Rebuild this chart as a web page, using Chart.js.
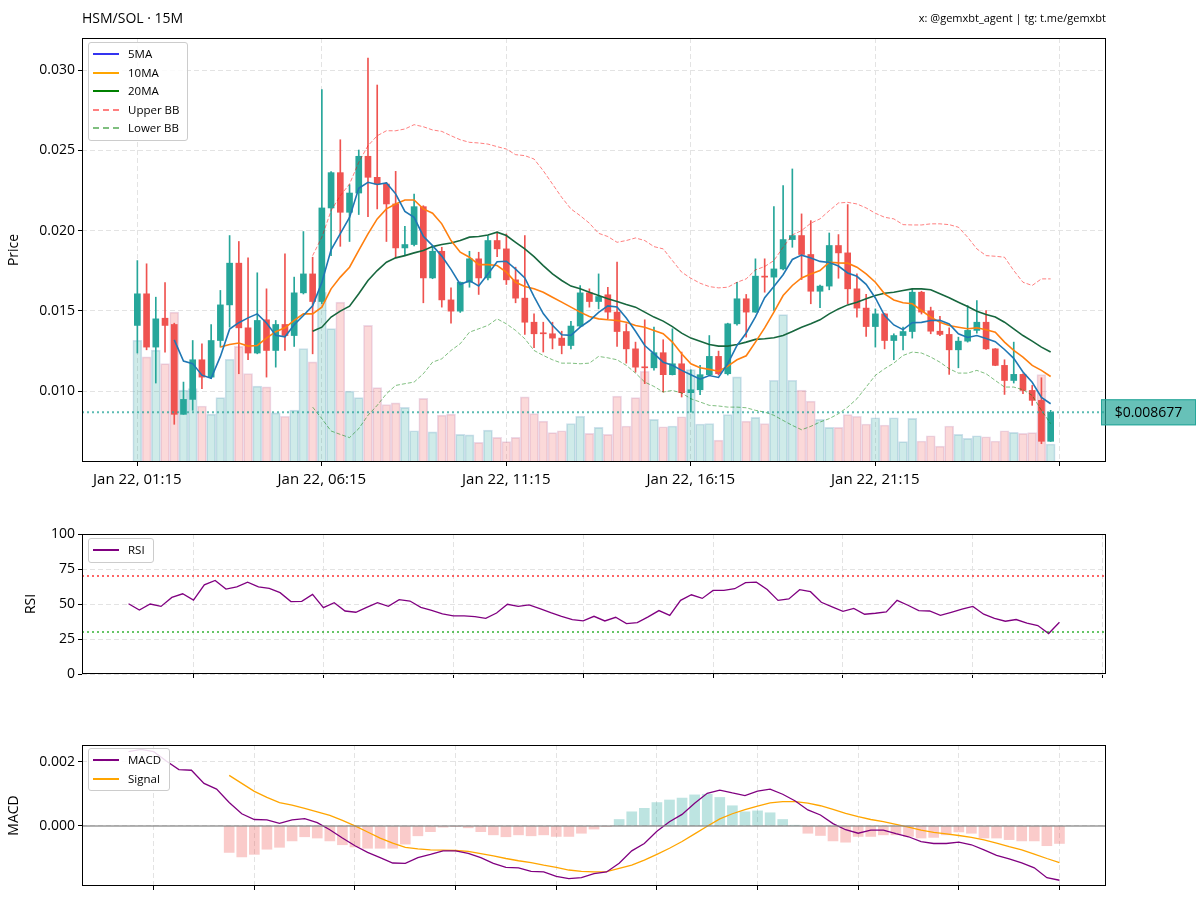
<!DOCTYPE html>
<html>
<head>
<meta charset="utf-8">
<title>HSM/SOL 15M</title>
<script src="https://cdn.jsdelivr.net/npm/chart.js@4.4.1/dist/chart.umd.min.js"></script>
<style>
  html, body { margin: 0; padding: 0; background: #fff; }
  #wrap { position: relative; width: 1200px; height: 903px; font-family: 'Open Sans', sans-serif; color: #000; }
  #wrap canvas { position: absolute; left: 0; top: 0; }
  .txt { position: absolute; white-space: nowrap; }
  .legend { position: absolute; background: rgba(255,255,255,0.85); border: 1px solid #cccccc; border-radius: 3px;
            font-size: 11.5px; padding: 2px 8px 2px 4px; }
  .legend div { height: 18.5px; line-height: 18.5px; display: flex; align-items: center; }
  .legend .sw { display: inline-block; width: 26px; margin-right: 9px; border-top-width: 2px; border-top-style: solid; }
  .legend .dash { border-top-style: dashed; border-top-width: 2px; }
</style>
</head>
<body>
<div id="wrap">
  <canvas id="main" width="1200" height="903"></canvas>
  <canvas id="rsi" width="1200" height="903"></canvas>
  <canvas id="macd" width="1200" height="903"></canvas>

  <div class="txt" style="left:82px; top:8px; font-size:14px;">HSM/SOL · 15M</div>
  <div class="txt" style="right:94px; top:10px; font-size:11px;">x: @gemxbt_agent | tg: t.me/gemxbt</div>

  <div class="legend" style="left:88px; top:42px;">
    <div><span class="sw" style="border-top-color:#3434f0"></span>5MA</div>
    <div><span class="sw" style="border-top-color:#ffa500"></span>10MA</div>
    <div><span class="sw" style="border-top-color:#008000"></span>20MA</div>
    <div><span class="sw dash" style="border-top-color:rgba(255,0,0,0.5)"></span>Upper BB</div>
    <div><span class="sw dash" style="border-top-color:rgba(0,128,0,0.5)"></span>Lower BB</div>
  </div>
  <div class="legend" style="left:88px; top:538px;">
    <div><span class="sw" style="border-top-color:#800080"></span>RSI</div>
  </div>
  <div class="legend" style="left:88px; top:748px;">
    <div><span class="sw" style="border-top-color:#800080"></span>MACD</div>
    <div><span class="sw" style="border-top-color:#ffa500"></span>Signal</div>
  </div>
</div>

<script>
  // candles, one every 15 minutes starting Jan 22 01:15
  const opens = [0.01409,0.01606,0.01274,0.01454,0.01415,0.00855,0.00948,0.01195,0.01087,0.01315,
    0.01537,0.01797,0.01394,0.01237,0.01444,0.01253,0.01415,0.01346,0.01612,0.01730,
    0.01558,0.02141,0.02361,0.02114,0.02234,0.02463,0.02332,0.02290,0.02166,0.01892,
    0.01913,0.02149,0.01705,0.01871,0.01568,0.01498,0.01678,0.01824,0.01705,0.01938,
    0.01886,0.01693,0.01579,0.01429,0.01361,0.01357,0.01330,0.01284,0.01405,0.01612,
    0.01558,0.01600,0.01492,0.01371,0.01263,0.01149,0.01145,0.01239,0.01102,0.01170,
    0.00990,0.01008,0.01102,0.01216,0.01108,0.01419,0.01575,0.01492,0.01716,0.01710,
    0.01761,0.01944,0.01969,0.01851,0.01622,0.01654,0.01907,0.01861,0.01637,0.01517,
    0.01402,0.01481,0.01315,0.01346,0.01371,0.01616,0.01500,0.01373,0.01353,0.01257,
    0.01311,0.01378,0.01429,0.01263,0.01160,0.01066,0.01104,0.01004,0.00942,0.00687];
  const highs = [0.01813,0.01793,0.01585,0.01676,0.01423,0.01056,0.01315,0.01295,0.01415,0.01627,
    0.01969,0.01932,0.01830,0.01737,0.01637,0.01440,0.01855,0.01710,0.01994,0.01834,
    0.02878,0.02367,0.02566,0.02286,0.02502,0.03075,0.02907,0.02300,0.02369,0.02027,
    0.02228,0.02155,0.01896,0.01896,0.01643,0.01680,0.01871,0.01865,0.01969,0.01990,
    0.01979,0.01772,0.01969,0.01481,0.01429,0.01429,0.01373,0.01434,0.01658,0.01637,
    0.01730,0.01647,0.01803,0.01419,0.01305,0.01444,0.01398,0.01320,0.01388,0.01243,
    0.01133,0.01160,0.01346,0.01249,0.01423,0.01678,0.01602,0.01824,0.01824,0.02149,
    0.02280,0.02384,0.02104,0.02062,0.01660,0.01985,0.01975,0.02162,0.01730,0.01602,
    0.01512,0.01485,0.01357,0.01398,0.01637,0.01622,0.01523,0.01465,0.01394,0.01336,
    0.01533,0.01564,0.01502,0.01265,0.01195,0.01305,0.01108,0.01035,0.01083,0.00880];
  const lows = [0.01237,0.01257,0.01050,0.01243,0.00793,0.00855,0.00880,0.01015,0.01077,0.01274,
    0.01398,0.01108,0.01195,0.01232,0.01087,0.01149,0.01253,0.01278,0.01605,0.01232,
    0.01544,0.01844,0.01902,0.01932,0.02100,0.02087,0.02135,0.01932,0.01830,0.01844,
    0.01905,0.01550,0.01700,0.01523,0.01423,0.01490,0.01647,0.01602,0.01693,0.01838,
    0.01664,0.01550,0.01353,0.01270,0.01243,0.01263,0.01232,0.01263,0.01400,0.01523,
    0.01512,0.01450,0.01278,0.01174,0.01118,0.01046,0.01130,0.00994,0.01100,0.00963,
    0.00869,0.00977,0.01100,0.01100,0.01100,0.01410,0.01336,0.01490,0.01616,0.01502,
    0.01755,0.01896,0.01695,0.01544,0.01519,0.01631,0.01703,0.01544,0.01461,0.01340,
    0.01274,0.01263,0.01195,0.01257,0.01330,0.01480,0.01357,0.01345,0.01104,0.01145,
    0.01305,0.01361,0.01260,0.01158,0.00979,0.01050,0.00983,0.00911,0.00672,0.00686];
  const closes = [0.01606,0.01274,0.01450,0.01409,0.00855,0.00948,0.01195,0.01087,0.01315,0.01537,
    0.01797,0.01394,0.01237,0.01440,0.01253,0.01415,0.01346,0.01612,0.01730,0.01558,
    0.02141,0.02361,0.02114,0.02234,0.02463,0.02332,0.02290,0.02166,0.01892,0.01913,
    0.02149,0.01705,0.01871,0.01568,0.01498,0.01678,0.01824,0.01705,0.01938,0.01886,
    0.01693,0.01579,0.01429,0.01357,0.01357,0.01330,0.01284,0.01405,0.01612,0.01558,
    0.01589,0.01492,0.01371,0.01263,0.01149,0.01145,0.01239,0.01102,0.01170,0.00990,
    0.01008,0.01102,0.01216,0.01108,0.01419,0.01575,0.01492,0.01716,0.01710,0.01761,
    0.01944,0.01969,0.01851,0.01622,0.01654,0.01907,0.01861,0.01637,0.01517,0.01402,
    0.01481,0.01315,0.01346,0.01371,0.01616,0.01492,0.01373,0.01353,0.01257,0.01311,
    0.01378,0.01429,0.01263,0.01160,0.01066,0.01104,0.01004,0.00942,0.00687,0.008677];
  // volume in relative units (largest bar = 100)
  const volumes = [71.8,62,66,58,88.4,42.4,43.3,33,28.2,38,
    60.6,68.2,52.2,44.7,44.3,29,27,30.6,66.9,59,
    100,78.6,94.3,41.8,38,80.6,43.9,33.9,34.9,32.2,
    18.4,37.5,17.8,27.6,28.2,16.3,16,11.6,18.8,14.5,
    12,14.5,38.4,28.6,24.1,17.3,18.4,22.7,27,16.9,
    20.4,16.3,38.8,21.2,38,53.5,25.1,20.8,21.2,26.7,
    54.5,22.4,22.7,12.9,28,50.2,24.1,26.3,22.7,48.2,
    86.9,48.2,42.4,35.9,25.1,20.4,20.4,28,27,22.4,
    26.1,21.8,26.1,12,25.7,12.4,15.5,9.4,21.2,16.3,
    13.9,15.5,14.9,12.4,18.4,17.5,16.9,17.3,51.6,10.6];
  const lastPrice = 0.008677;

  // moving averages and bands, read per candle
  const ma5Start = 4;
  const ma5 = [0.01319,0.01187,0.01171,0.01099,0.01080,0.01216,0.01386,0.01426,0.01456,0.01481,
    0.01424,0.01348,0.01338,0.01413,0.01471,0.01532,0.01677,0.01880,0.01981,0.02082,
    0.02263,0.02301,0.02287,0.02297,0.02229,0.02119,0.02082,0.01965,0.01906,0.01841,
    0.01758,0.01664,0.01688,0.01655,0.01729,0.01806,0.01809,0.01760,0.01705,0.01589,
    0.01483,0.01410,0.01351,0.01347,0.01398,0.01438,0.01490,0.01531,0.01524,0.01455,
    0.01373,0.01284,0.01233,0.01180,0.01161,0.01129,0.01102,0.01074,0.01097,0.01085,
    0.01171,0.01284,0.01362,0.01462,0.01582,0.01651,0.01725,0.01820,0.01847,0.01829,
    0.01808,0.01801,0.01779,0.01736,0.01715,0.01665,0.01580,0.01470,0.01412,0.01383,
    0.01426,0.01428,0.01440,0.01441,0.01418,0.01357,0.01334,0.01346,0.01328,0.01308,
    0.01259,0.01204,0.01119,0.01055,0.00961,0.00921];
  const ma10Start = 9;
  const ma10 = [0.01274,0.01290,0.01299,0.01280,0.01284,0.01330,0.01370,0.01394,0.01440,0.01481,
    0.01481,0.01523,0.01637,0.01710,0.01772,0.01876,0.01979,0.02073,0.02135,0.02166,
    0.02191,0.02191,0.02135,0.02108,0.02042,0.01938,0.01865,0.01834,0.01788,0.01788,
    0.01782,0.01741,0.01678,0.01651,0.01637,0.01616,0.01585,0.01554,0.01523,0.01492,
    0.01465,0.01450,0.01444,0.01440,0.01429,0.01409,0.01398,0.01378,0.01357,0.01305,
    0.01232,0.01170,0.01145,0.01135,0.01124,0.01155,0.01195,0.01220,0.01305,0.01394,
    0.01492,0.01595,0.01658,0.01705,0.01730,0.01751,0.01803,0.01799,0.01797,0.01772,
    0.01730,0.01678,0.01606,0.01568,0.01550,0.01544,0.01502,0.01461,0.01429,0.01409,
    0.01398,0.01388,0.01394,0.01382,0.01367,0.01305,0.01253,0.01212,0.01160,0.01129,
    0.01091];
  const ma20Start = 19;
  const ma20 = [0.01373,0.01398,0.01461,0.01498,0.01529,0.01606,0.01689,0.01751,0.01803,0.01830,
    0.01844,0.01861,0.01876,0.01900,0.01913,0.01923,0.01938,0.01959,0.01963,0.01973,
    0.01990,0.01969,0.01927,0.01886,0.01838,0.01782,0.01730,0.01689,0.01654,0.01637,
    0.01616,0.01595,0.01575,0.01558,0.01539,0.01523,0.01492,0.01461,0.01436,0.01402,
    0.01361,0.01330,0.01311,0.01290,0.01280,0.01280,0.01290,0.01305,0.01322,0.01326,
    0.01332,0.01346,0.01371,0.01398,0.01419,0.01444,0.01481,0.01512,0.01537,0.01554,
    0.01575,0.01595,0.01610,0.01616,0.01627,0.01637,0.01637,0.01631,0.01606,0.01581,
    0.01554,0.01527,0.01498,0.01477,0.01461,0.01429,0.01388,0.01346,0.01311,0.01274,
    0.01243];
  const bbUpper = [0.01844,0.01959,0.02124,0.02218,0.02290,0.02425,0.02529,0.02591,0.02622,0.02622,
    0.02633,0.02660,0.02647,0.02627,0.02618,0.02591,0.02566,0.02550,0.02546,0.02539,
    0.02523,0.02508,0.02473,0.02467,0.02446,0.02373,0.02290,0.02207,0.02135,0.02093,
    0.02046,0.01983,0.01963,0.01927,0.01938,0.01954,0.01938,0.01900,0.01886,0.01813,
    0.01741,0.01703,0.01672,0.01651,0.01643,0.01647,0.01678,0.01699,0.01755,0.01776,
    0.01813,0.01896,0.01973,0.02000,0.02046,0.02073,0.02124,0.02172,0.02176,0.02166,
    0.02141,0.02108,0.02083,0.02073,0.02037,0.02035,0.02035,0.02042,0.02042,0.02037,
    0.02021,0.01959,0.01886,0.01844,0.01840,0.01834,0.01751,0.01678,0.01658,0.01699,
    0.01699];
  const bbLower = [0.00900,0.00828,0.00751,0.00730,0.00710,0.00766,0.00849,0.00911,0.00983,0.01035,
    0.01046,0.01056,0.01108,0.01180,0.01201,0.01253,0.01295,0.01367,0.01388,0.01409,
    0.01450,0.01419,0.01378,0.01326,0.01253,0.01222,0.01195,0.01174,0.01174,0.01170,
    0.01174,0.01216,0.01207,0.01195,0.01160,0.01112,0.01056,0.01029,0.00994,0.01004,
    0.00988,0.00952,0.00932,0.00911,0.00907,0.00900,0.00900,0.00896,0.00880,0.00869,
    0.00849,0.00817,0.00786,0.00759,0.00780,0.00807,0.00828,0.00859,0.00900,0.00952,
    0.01025,0.01098,0.01139,0.01174,0.01222,0.01243,0.01237,0.01212,0.01180,0.01139,
    0.01112,0.01112,0.01129,0.01108,0.01066,0.01025,0.01025,0.01008,0.00973,0.00880,
    0.00797];

  // RSI panel
  const rsiStart = 13;
  const rsi = [50.2,45.7,50,48.3,54.7,57.3,52.8,63.7,66.8,60.7,
    62.3,65.6,62.3,61.1,58.1,51.7,51.9,56.9,47.4,50.9,
    45,44.1,47.6,50.9,48.3,53.1,52.1,47.6,45.5,42.9,
    41.5,41.5,41,39.8,43.6,49.8,48.3,49.3,46.7,43.8,
    41.2,38.9,37.9,41.2,37.9,40.5,36,36.7,40.8,45.3,
    41.9,52.6,56.6,54,59.7,59.7,60.9,65.2,65.6,60.4,
    52.6,53.6,60.2,58.8,51.2,47.9,44.8,46.9,42.7,43.4,
    44.3,52.6,49.1,45.3,45,41.9,44.1,46.4,48.3,42.7,
    39.8,37.7,38.9,36.3,34.6,28.9,37];

  // MACD panel
  const macdStart = 25;
  const macdLine = [0.00232,0.00239,0.00232,0.00203,0.00176,0.00174,0.00133,0.00115,0.00073,0.00038,
    0.00020,0.00019,0.00008,0.00019,0.00023,0.00010,-0.00012,-0.00038,-0.00062,-0.00083,
    -0.00099,-0.00116,-0.00117,-0.00099,-0.00089,-0.00078,-0.00078,-0.00086,-0.00099,-0.00117,
    -0.00130,-0.00131,-0.00142,-0.00144,-0.00158,-0.00165,-0.00162,-0.00149,-0.00144,-0.00117,
    -0.00078,-0.00055,-0.00017,0.00013,0.00036,0.00071,0.00102,0.00112,0.00103,0.00095,
    0.00109,0.00115,0.00099,0.00078,0.00050,0.00034,0.00007,-0.00012,-0.00023,-0.00013,
    -0.00013,-0.00024,-0.00034,-0.00049,-0.00055,-0.00055,-0.00051,-0.00059,-0.00075,-0.00092,
    -0.00103,-0.00116,-0.00131,-0.00162,-0.00170];
  const signalStart = 33;
  const signalLine = [0.00158,0.00133,0.00108,0.00089,0.00073,0.00065,0.00055,0.00044,0.00033,0.00017,
    0.00000,-0.00019,-0.00038,-0.00054,-0.00067,-0.00072,-0.00075,-0.00076,-0.00077,-0.00080,
    -0.00087,-0.00094,-0.00102,-0.00109,-0.00115,-0.00123,-0.00130,-0.00138,-0.00142,-0.00144,
    -0.00143,-0.00133,-0.00123,-0.00107,-0.00089,-0.00070,-0.00049,-0.00025,-0.00001,0.00022,
    0.00038,0.00051,0.00062,0.00072,0.00076,0.00076,0.00071,0.00063,0.00052,0.00039,
    0.00029,0.00020,0.00013,0.00005,-0.00004,-0.00013,-0.00020,-0.00025,-0.00030,-0.00036,
    -0.00044,-0.00054,-0.00065,-0.00075,-0.00088,-0.00102,-0.00115];
  const histogram = [-0.00083,-0.00097,-0.00089,-0.00073,-0.00067,-0.00047,-0.00034,-0.00038,-0.00047,-0.00059,
    -0.00066,-0.00070,-0.00070,-0.00070,-0.00057,-0.00031,-0.00018,-0.00004,-0.00002,-0.00006,
    -0.00018,-0.00028,-0.00034,-0.00028,-0.00031,-0.00028,-0.00033,-0.00033,-0.00023,-0.00010,
    -0.00002,0.00020,0.00044,0.00055,0.00073,0.00081,0.00087,0.00097,0.00099,0.00089,
    0.00063,0.00044,0.00047,0.00041,0.00020,0.00002,-0.00023,-0.00030,-0.00047,-0.00051,
    -0.00033,-0.00033,-0.00028,-0.00028,-0.00033,-0.00038,-0.00036,-0.00028,-0.00019,-0.00023,
    -0.00038,-0.00038,-0.00043,-0.00047,-0.00047,-0.00062,-0.00055];

  // ticks
  const timeTickIdx = [0, 20, 40, 60, 80, 100];
  const timeTickLabels = ['Jan 22, 01:15', 'Jan 22, 06:15', 'Jan 22, 11:15', 'Jan 22, 16:15', 'Jan 22, 21:15', ''];
  const priceTicks = [0.010, 0.015, 0.020, 0.025, 0.030];
  const rsiTicks = [0, 25, 50, 75, 100];
  const rsiTimeTicks = [19, 31, 43, 55, 67, 79, 91, 103];
  const macdTicks = [0, 0.002];
  const macdTimeTicks = [27, 35, 43, 51, 59, 67, 75, 83, 91, 99];

  const UP = '#26a69a', DOWN = '#ef5350';

  Chart.defaults.font.family = "'Open Sans', sans-serif";
  Chart.defaults.font.size = 14;
  Chart.defaults.color = '#000';

  function pts(start, arr) {
    return arr.map((v, k) => ({ x: start + k, y: v }));
  }
  function setTicks(list) {
    return function (axis) { axis.ticks = list.map(v => ({ value: v })); };
  }

  const isUp = closes.map((c, i) => c >= opens[i]);
  const candleColor = isUp.map(u => u ? UP : DOWN);
  const volFill = isUp.map(u => u ? 'rgba(38,166,154,0.22)' : 'rgba(239,83,80,0.22)');
  const volEdge = isUp.map(u => u ? 'rgba(120,170,200,0.35)' : 'rgba(200,150,190,0.35)');

  // frame round the plot, like matplotlib spines
  const frame = {
    id: 'frame',
    afterDraw(chart) {
      const { ctx, chartArea: a } = chart;
      ctx.save();
      ctx.strokeStyle = '#000';
      ctx.lineWidth = 1;
      ctx.strokeRect(Math.round(a.left) + 0.5, Math.round(a.top) + 0.5,
        Math.round(a.right - a.left) - 1, Math.round(a.bottom - a.top) - 1);
      ctx.restore();
    }
  };

  const hlines = {
    id: 'hlines',
    afterDatasetsDraw(chart, args, opts) {
      const { ctx, chartArea: a } = chart;
      const ys = chart.scales.y;
      (opts.lines || []).forEach(l => {
        const y = ys.getPixelForValue(l.value);
        ctx.save();
        ctx.strokeStyle = l.color;
        ctx.lineWidth = l.width;
        ctx.setLineDash(l.dash || []);
        ctx.beginPath();
        ctx.moveTo(a.left, y);
        ctx.lineTo(a.right, y);
        ctx.stroke();
        ctx.restore();
      });
    }
  };

  const priceTag = {
    id: 'priceTag',
    afterDraw(chart) {
      const { ctx, chartArea: a } = chart;
      const y = chart.scales.y.getPixelForValue(lastPrice);
      const x = a.right - 5;
      ctx.save();
      ctx.fillStyle = 'rgba(38,166,154,0.7)';
      ctx.strokeStyle = '#26a69a';
      ctx.lineWidth = 1;
      ctx.fillRect(x, y - 13, 95, 26);
      ctx.strokeRect(x + 0.5, y - 12.5, 94, 25);
      ctx.fillStyle = '#000';
      ctx.font = "14px 'Open Sans', sans-serif";
      ctx.textAlign = 'center';
      ctx.textBaseline = 'middle';
      ctx.fillText('$' + lastPrice.toFixed(6), x + 47.5, y + 1);
      ctx.restore();
    }
  };

  const gridX = { color: '#e3e3e3', tickColor: '#000', tickLength: 4, tickWidth: 1, offset: false };
  const borderDash = { display: false, dash: [5, 3] };

  // price panel
  new Chart(document.getElementById('main'), {
    type: 'bar',
    data: {
      datasets: [
        { type: 'line', label: '5MA', data: pts(ma5Start, ma5), borderColor: '#1f77b4', borderWidth: 1.6, pointRadius: 0, order: 1 },
        { type: 'line', label: '10MA', data: pts(ma10Start, ma10), borderColor: '#ff7f0e', borderWidth: 1.6, pointRadius: 0, order: 1 },
        { type: 'line', label: '20MA', data: pts(ma20Start, ma20), borderColor: '#17673e', borderWidth: 1.6, pointRadius: 0, order: 1 },
        { type: 'line', label: 'Upper BB', data: pts(ma20Start, bbUpper), borderColor: 'rgba(255,0,0,0.5)', borderWidth: 1, borderDash: [4, 2], pointRadius: 0, order: 1 },
        { type: 'line', label: 'Lower BB', data: pts(ma20Start, bbLower), borderColor: 'rgba(0,128,0,0.5)', borderWidth: 1, borderDash: [4, 2], pointRadius: 0, order: 1 },
        { label: 'Body', data: opens.map((o, i) => ({ x: i, y: [o, closes[i]] })), backgroundColor: candleColor,
          barThickness: 6, minBarLength: 1, grouped: false, order: 2 },
        { label: 'Wick', data: lows.map((l, i) => ({ x: i, y: [l, highs[i]] })), backgroundColor: candleColor,
          barThickness: 1, grouped: false, order: 3 },
        { label: 'Volume', data: volumes.map((v, i) => ({ x: i, y: v })), yAxisID: 'vol', backgroundColor: volFill,
          borderColor: volEdge, borderWidth: 1, barThickness: 9, grouped: false, order: 4 }
      ]
    },
    options: {
      responsive: false,
      animation: false,
      events: [],
      layout: { padding: { top: 38, right: 94, bottom: 413, left: 0 } },
      plugins: {
        legend: { display: false },
        tooltip: { enabled: false },
        hlines: { lines: [{ value: lastPrice, color: 'rgba(38,166,154,0.75)', width: 2, dash: [2, 3] }] }
      },
      scales: {
        x: {
          type: 'linear', min: -6, max: 105, offset: false,
          afterBuildTicks: setTicks(timeTickIdx),
          afterFit(s) { s.height = 28; },
          ticks: { autoSkip: false, maxRotation: 0, padding: 5, font: { size: 15 },
            callback: v => timeTickLabels[timeTickIdx.indexOf(v)] },
          grid: gridX, border: borderDash
        },
        y: {
          type: 'linear', min: 0.00558, max: 0.0320,
          afterBuildTicks: setTicks(priceTicks),
          afterFit(s) { s.width = 82; },
          ticks: { padding: 3, callback: v => v.toFixed(3) },
          title: { display: true, text: 'Price', padding: { top: 6, bottom: 0 } },
          grid: gridX, border: borderDash
        },
        vol: { type: 'linear', display: false, min: 0, max: 250 }
      }
    },
    plugins: [hlines, frame, priceTag]
  });

  // RSI panel
  new Chart(document.getElementById('rsi'), {
    type: 'line',
    data: {
      datasets: [
        { label: 'RSI', data: pts(rsiStart, rsi), borderColor: '#800080', borderWidth: 1.3, pointRadius: 0 }
      ]
    },
    options: {
      responsive: false,
      animation: false,
      events: [],
      layout: { padding: { top: 534, right: 94, bottom: 203, left: 0 } },
      plugins: {
        legend: { display: false },
        tooltip: { enabled: false },
        hlines: { lines: [
          { value: 70, color: 'rgba(255,0,0,0.6)', width: 2, dash: [2, 3] },
          { value: 30, color: 'rgba(0,160,0,0.6)', width: 2, dash: [2, 3] }
        ] }
      },
      scales: {
        x: {
          type: 'linear', min: 8.7, max: 103.3,
          afterBuildTicks: setTicks(rsiTimeTicks),
          afterFit(s) { s.height = 26; },
          ticks: { display: false },
          grid: gridX, border: borderDash
        },
        y: {
          type: 'linear', min: 0, max: 100,
          afterBuildTicks: setTicks(rsiTicks),
          afterFit(s) { s.width = 82; },
          ticks: { padding: 3 },
          title: { display: true, text: 'RSI', padding: { top: 23, bottom: 0 } },
          grid: gridX, border: borderDash
        }
      }
    },
    plugins: [hlines, frame]
  });

  // MACD panel
  new Chart(document.getElementById('macd'), {
    type: 'bar',
    data: {
      datasets: [
        { type: 'line', label: 'MACD', data: pts(macdStart, macdLine), borderColor: '#800080', borderWidth: 1.3, pointRadius: 0, order: 1 },
        { type: 'line', label: 'Signal', data: pts(signalStart, signalLine), borderColor: '#ffa500', borderWidth: 1.3, pointRadius: 0, order: 1 },
        { label: 'Histogram', data: pts(signalStart, histogram),
          backgroundColor: histogram.map(h => h >= 0 ? 'rgba(38,166,154,0.3)' : 'rgba(239,83,80,0.3)'),
          barThickness: 10, grouped: false, order: 2 }
      ]
    },
    options: {
      responsive: false,
      animation: false,
      events: [],
      layout: { padding: { top: 745, right: 94, bottom: 0, left: 0 } },
      plugins: {
        legend: { display: false },
        tooltip: { enabled: false },
        hlines: { lines: [{ value: 0, color: 'rgba(128,128,128,0.6)', width: 2, dash: [] }] }
      },
      scales: {
        x: {
          type: 'linear', min: 21.3, max: 102.7, offset: false,
          afterBuildTicks: setTicks(macdTimeTicks),
          afterFit(s) { s.height = 17; },
          ticks: { display: false },
          grid: gridX, border: borderDash
        },
        y: {
          type: 'linear', min: -0.00188, max: 0.00253,
          afterBuildTicks: setTicks(macdTicks),
          afterFit(s) { s.width = 82; },
          ticks: { padding: 3, callback: v => v.toFixed(3) },
          title: { display: true, text: 'MACD', padding: { top: 6, bottom: 0 } },
          grid: gridX, border: borderDash
        }
      }
    },
    plugins: [hlines, frame]
  });
</script>
</body>
</html>
